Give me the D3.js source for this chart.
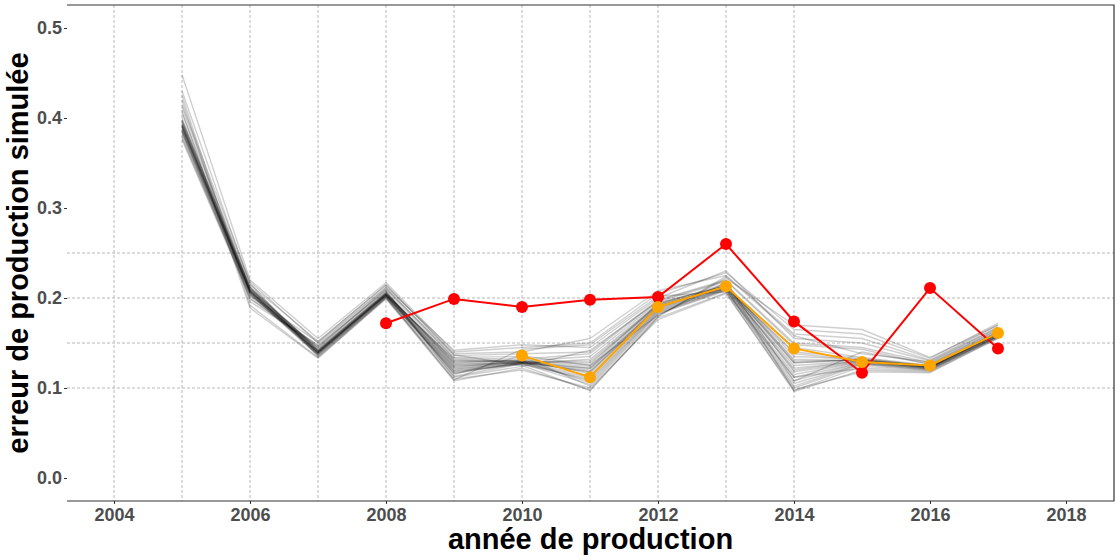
<!DOCTYPE html>
<html><head><meta charset="utf-8">
<script src="https://cdn.jsdelivr.net/npm/d3@7"></script>
<style>body{margin:0;background:#fff;} svg{display:block;}</style>
</head><body>
<svg id="chart" width="1120" height="560"></svg>
<script>
// ---- data ----
const simYears = [2005,2006,2007,2008,2009,2010,2011,2012,2013,2014,2015,2016,2017];
const simRuns = [
 [0.390,0.207,0.139,0.203,0.122,0.128,0.118,0.188,0.211,0.120,0.130,0.123,0.160],
 [0.395,0.210,0.141,0.205,0.126,0.129,0.122,0.191,0.213,0.128,0.131,0.124,0.161],
 [0.388,0.206,0.138,0.202,0.119,0.127,0.112,0.186,0.210,0.112,0.128,0.122,0.158],
 [0.398,0.212,0.143,0.206,0.130,0.130,0.126,0.194,0.214,0.135,0.132,0.125,0.162],
 [0.385,0.205,0.137,0.201,0.116,0.128,0.108,0.184,0.209,0.105,0.127,0.121,0.157],
 [0.392,0.209,0.140,0.204,0.124,0.129,0.130,0.192,0.212,0.140,0.133,0.124,0.160],
 [0.400,0.213,0.142,0.205,0.128,0.131,0.116,0.189,0.215,0.118,0.129,0.123,0.161],
 [0.383,0.204,0.136,0.200,0.113,0.127,0.104,0.182,0.208,0.100,0.126,0.120,0.156],
 [0.394,0.208,0.141,0.204,0.132,0.130,0.135,0.195,0.213,0.145,0.134,0.125,0.163],
 [0.389,0.207,0.139,0.203,0.121,0.128,0.120,0.190,0.211,0.125,0.130,0.123,0.159],
 [0.396,0.211,0.142,0.206,0.127,0.129,0.124,0.193,0.216,0.130,0.131,0.124,0.162],
 [0.387,0.206,0.138,0.202,0.118,0.126,0.110,0.185,0.210,0.108,0.128,0.122,0.158],
 [0.391,0.208,0.140,0.203,0.123,0.129,0.128,0.191,0.212,0.132,0.130,0.123,0.160],
 [0.393,0.209,0.139,0.204,0.125,0.128,0.114,0.187,0.211,0.115,0.129,0.122,0.159],
 [0.386,0.205,0.137,0.202,0.120,0.127,0.132,0.193,0.213,0.138,0.131,0.124,0.161],
 [0.397,0.211,0.141,0.205,0.129,0.130,0.106,0.183,0.209,0.102,0.127,0.121,0.157],
 [0.392,0.207,0.140,0.203,0.117,0.128,0.122,0.189,0.212,0.122,0.130,0.123,0.160],
 [0.390,0.208,0.139,0.204,0.131,0.129,0.118,0.190,0.214,0.128,0.132,0.124,0.161],
 [0.448,0.220,0.155,0.217,0.140,0.145,0.150,0.205,0.228,0.165,0.160,0.133,0.172],
 [0.430,0.215,0.152,0.214,0.138,0.140,0.155,0.208,0.225,0.160,0.155,0.131,0.170],
 [0.420,0.192,0.134,0.199,0.108,0.122,0.098,0.178,0.206,0.096,0.120,0.118,0.155],
 [0.415,0.218,0.150,0.212,0.142,0.148,0.145,0.200,0.230,0.155,0.150,0.130,0.168],
 [0.408,0.189,0.133,0.200,0.110,0.120,0.100,0.176,0.205,0.098,0.118,0.117,0.156],
 [0.376,0.200,0.145,0.210,0.136,0.138,0.140,0.198,0.220,0.150,0.145,0.128,0.166],
 [0.378,0.202,0.147,0.208,0.112,0.124,0.142,0.196,0.218,0.108,0.140,0.127,0.164],
 [0.425,0.196,0.148,0.211,0.134,0.135,0.102,0.180,0.222,0.170,0.165,0.134,0.170],
 [0.405,0.216,0.135,0.201,0.109,0.143,0.148,0.202,0.207,0.112,0.122,0.119,0.157],
 [0.380,0.203,0.151,0.215,0.137,0.125,0.097,0.179,0.224,0.158,0.138,0.129,0.167],
 [0.412,0.210,0.144,0.207,0.115,0.136,0.125,0.181,0.217,0.097,0.124,0.120,0.158],
 [0.384,0.199,0.146,0.209,0.133,0.132,0.138,0.197,0.219,0.148,0.143,0.126,0.165]
];
const redYears = [2008,2009,2010,2011,2012,2013,2014,2015,2016,2017];
const redValues = [0.172,0.199,0.190,0.198,0.201,0.260,0.174,0.117,0.211,0.144];
const orangeYears = [2010,2011,2012,2013,2014,2015,2016,2017];
const orangeValues = [0.136,0.112,0.190,0.213,0.144,0.129,0.125,0.161];
const xTicks = [2004,2006,2008,2010,2012,2014,2016,2018];
const yTicks = [0.0,0.1,0.2,0.3,0.4,0.5];
const vGridYears = [2004,2005,2006,2007,2008,2009,2010,2011,2012,2013,2014];
const hGridValues = [0.10,0.15,0.20,0.25];
const xTitle = "année de production";
const yTitle = "erreur de production simulée";

// ---- layout ----
const L = 67, R = 1114, T = 5, B = 501;
const svg = d3.select("#chart");
const x = d3.scaleLinear().domain([2004 - 47/68, 2004 + 1000/68]).range([L, R]);
const y = d3.scaleLinear().domain([-23/900, 473/900]).range([B, T]);

// grid
const grid = svg.append("g").attr("stroke", "#b8b8b8").attr("stroke-width", 1).attr("stroke-dasharray", "3,2");
grid.selectAll("line.v").data(vGridYears).join("line").attr("class","v")
  .attr("x1", d => x(d)).attr("x2", d => x(d)).attr("y1", T).attr("y2", B);
grid.selectAll("line.h").data(hGridValues).join("line").attr("class","h")
  .attr("x1", L).attr("x2", R).attr("y1", d => y(d)).attr("y2", d => y(d));

// simulations
const line = d3.line().x(d => x(d[0])).y(d => y(d[1]));
svg.append("g").selectAll("path").data(simRuns).join("path")
  .attr("d", run => line(run.map((v, i) => [simYears[i], v])))
  .attr("fill", "none").attr("stroke", "#000").attr("stroke-opacity", 0.19)
  .attr("stroke-width", 1.4).attr("stroke-linejoin", "round");

// red series
const redPts = redYears.map((yr, i) => [yr, redValues[i]]);
svg.append("path").attr("d", line(redPts)).attr("fill","none").attr("stroke","#ff0000").attr("stroke-width",2);
svg.append("g").selectAll("circle").data(redPts).join("circle")
  .attr("cx", d => x(d[0])).attr("cy", d => y(d[1])).attr("r", 6).attr("fill", "#ff0000");

// orange series
const orPts = orangeYears.map((yr, i) => [yr, orangeValues[i]]);
svg.append("path").attr("d", line(orPts)).attr("fill","none").attr("stroke","#ffa500").attr("stroke-width",2);
svg.append("g").selectAll("circle").data(orPts).join("circle")
  .attr("cx", d => x(d[0])).attr("cy", d => y(d[1])).attr("r", 6).attr("fill", "#ffa500");

// panel border (top, right, bottom)
svg.append("path").attr("d", `M${L},${T}H${R}V${B}H${L}`).attr("fill","none").attr("stroke","#333").attr("stroke-width",1.2);

// axes
const ax = svg.append("g").attr("transform", `translate(0,${B})`)
  .call(d3.axisBottom(x).tickValues(xTicks).tickFormat(d3.format("d")).tickSize(3).tickPadding(4));
const ay = svg.append("g").attr("transform", `translate(${L},0)`)
  .call(d3.axisLeft(y).tickValues(yTicks).tickFormat(d3.format(".1f")).tickSize(3).tickPadding(2));
[ax, ay].forEach(a => {
  a.select(".domain").remove();
  a.selectAll(".tick line").attr("stroke", "#333");
  a.selectAll(".tick text").attr("fill", "#4d4d4d")
    .style("font-family", "'Liberation Sans', Arial, sans-serif")
    .style("font-size", "18px").style("font-weight", "bold");
});

// titles
svg.append("text").attr("x", (L + R) / 2).attr("y", 549).attr("text-anchor", "middle")
  .style("font-family", "'Liberation Sans', Arial, sans-serif").style("font-size", "29px").style("font-weight", "bold")
  .attr("fill", "#000").text(xTitle);
svg.append("text").attr("transform", `translate(28,${(T + B) / 2}) rotate(-90)`).attr("text-anchor", "middle")
  .style("font-family", "'Liberation Sans', Arial, sans-serif").style("font-size", "29px").style("font-weight", "bold")
  .attr("fill", "#000").text(yTitle);
</script>
</body></html>
